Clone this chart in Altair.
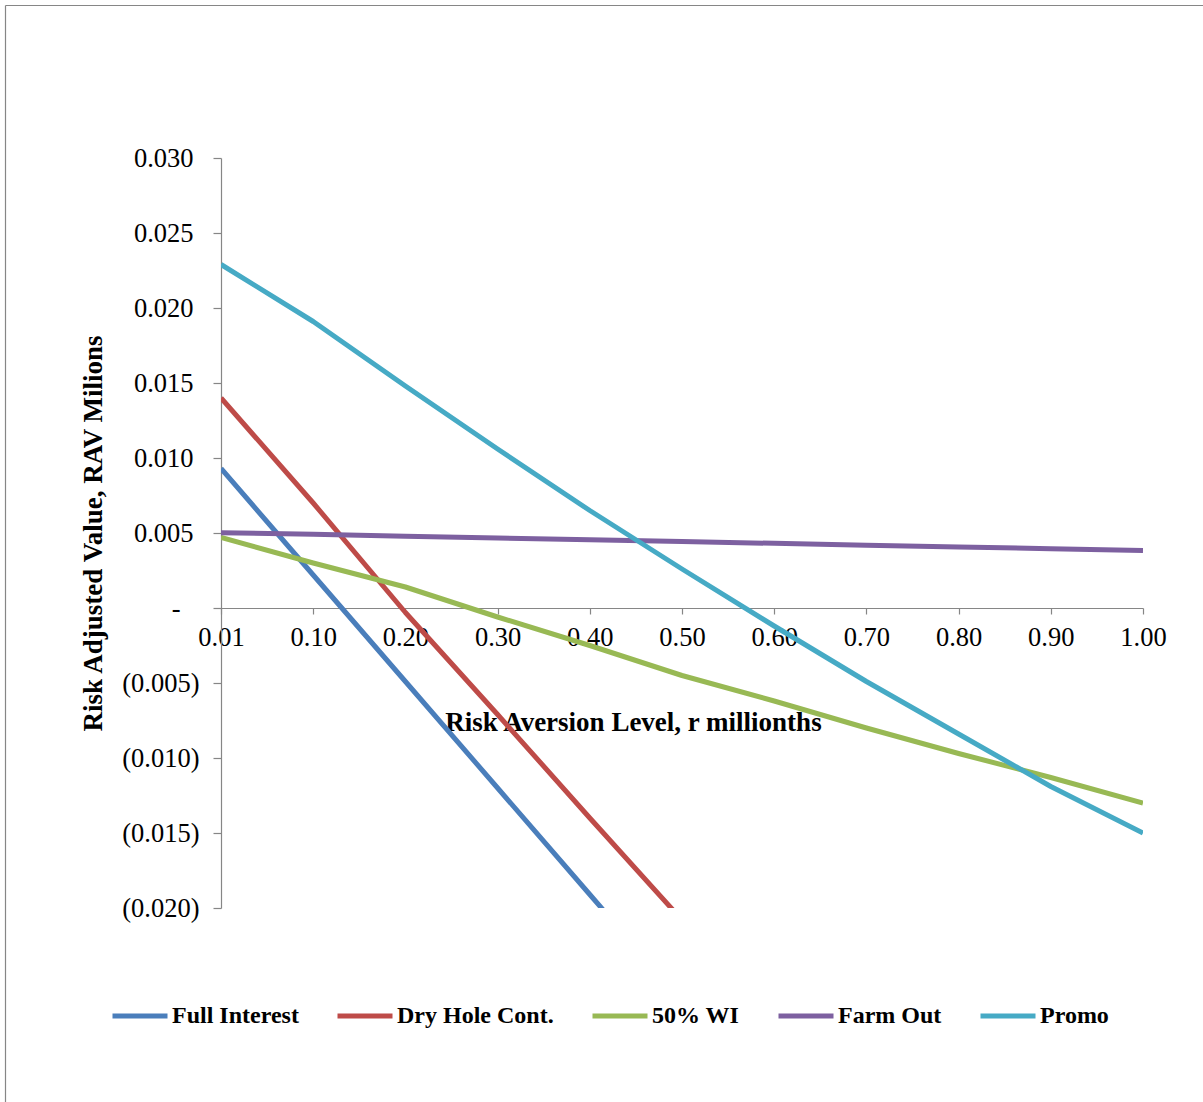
import altair as alt
import pandas as pd

# ---- data ----
r_labels = ["0.01", "0.10", "0.20", "0.30", "0.40", "0.50", "0.60", "0.70", "0.80", "0.90", "1.00"]
full_interest = [0.0093, 0.0022, -0.0049, -0.0120, -0.0191, -0.0262, -0.0333, -0.0404, -0.0475, -0.0546, -0.0617]
dry_hole = [0.0140, 0.0070, -0.0003, -0.0071, -0.0140, -0.0208, -0.0276, -0.0344, -0.0412, -0.0480, -0.0548]
wi_50 = [0.0047, 0.0030, 0.0014, -0.0006, -0.0025, -0.0045, -0.0062, -0.0080, -0.0097, -0.0113, -0.0130]
farm_out = [0.00502, 0.00491, 0.00479, 0.00467, 0.00455, 0.00443, 0.00431, 0.00419, 0.00407, 0.00395, 0.00383]
promo = [0.0229, 0.0191, 0.0148, 0.0106, 0.0065, 0.0026, -0.0012, -0.0049, -0.0084, -0.0119, -0.0150]

series_names = ["Full Interest", "Dry Hole Cont.", "50% WI", "Farm Out", "Promo"]
series_colors = ["#4A7EBB", "#BE4B48", "#98B954", "#7D60A0", "#46AAC5"]
y_ticks = [-0.020, -0.015, -0.010, -0.005, 0.0, 0.005, 0.010, 0.015, 0.020, 0.025, 0.030]

rows = []
for name, vals in zip(series_names, [full_interest, dry_hole, wi_50, farm_out, promo]):
    for r, v in zip(r_labels, vals):
        rows.append({"r": r, "rav": v, "series": name})
df = pd.DataFrame(rows)

FONT = "Liberation Serif"
GRAY = "#868686"

y_label_expr = (
    "abs(datum.value) < 1e-9 ? '-' : "
    "(datum.value < 0 ? '(' + format(-datum.value, '.3f') + ')' : format(datum.value, '.3f'))"
)

y_label_padding = {
    "condition": [
        {"test": "abs(datum.value) < 1e-9", "value": 33},
        {"test": "datum.value > 0", "value": 20},
    ],
    "value": 14,
}

lines = alt.Chart(df).mark_line(clip=True, strokeWidth=5, strokeJoin="round").encode(
    x=alt.X(
        "r:O",
        sort=r_labels,
        scale=alt.Scale(type="point", padding=0),
        axis=alt.Axis(
            title="Risk Aversion Level, r millionths",
            titleFont=FONT, titleFontSize=27, titleFontWeight="bold", titleColor="#000000",
            titleX=412, titleY=122, titleAlign="center", titleBaseline="alphabetic",
            labelFont=FONT, labelFontSize=26.5, labelColor="#000000", labelAngle=0,
            labelPadding=10, labelBaseline="top",
            domainColor=GRAY, tickColor=GRAY, tickSize=6, domainWidth=1.2, tickWidth=1.2,
            offset=-300, grid=False,
        ),
    ),
    y=alt.Y(
        "rav:Q",
        scale=alt.Scale(domain=[-0.02, 0.03], nice=False, zero=False),
        axis=alt.Axis(
            title="Risk Adjusted Value, RAV Milions",
            titleFont=FONT, titleFontSize=27, titleFontWeight="bold", titleColor="#000000",
            titleX=-120, titleY=375, titleAlign="center", titleBaseline="alphabetic", titleAngle=-90,
            values=y_ticks, labelExpr=y_label_expr,
            labelFont=FONT, labelFontSize=26.5, labelColor="#000000",
            labelPadding=y_label_padding,
            domainColor=GRAY, tickColor=GRAY, tickSize=8, domainWidth=1.2, tickWidth=1.2,
            grid=False,
        ),
    ),
    color=alt.Color(
        "series:N",
        sort=series_names,
        scale=alt.Scale(domain=series_names, range=series_colors),
        legend=alt.Legend(
            title=None, orient="none", direction="horizontal",
            legendX=-111, legendY=828, padding=0,
            symbolType="stroke", symbolSize=3025, symbolStrokeWidth=5,
            labelFont=FONT, labelFontSize=24, labelFontWeight="bold", labelColor="#000000",
            labelOffset=2, columnPadding=28, labelLimit=400,
        ),
    ),
)

frame_df = pd.DataFrame({"k": [0]})
frame_top = alt.Chart(frame_df).mark_rule(color=GRAY, strokeWidth=1.2).encode(
    x=alt.value(-215.5), x2=alt.value(1100), y=alt.value(-152.5)
)
frame_left = alt.Chart(frame_df).mark_rule(color=GRAY, strokeWidth=1.2).encode(
    x=alt.value(-215.5), y=alt.value(-152.5), y2=alt.value(1000)
)

chart = alt.layer(frame_top, frame_left, lines).properties(
    width=922, height=750,
    autosize=alt.AutoSizeParams(type="none"),
    padding={"left": 221, "top": 158, "right": 60, "bottom": 194},
    background="#ffffff",
).configure_view(stroke=None)

chart.save("out.html", embed_options={"renderer": "svg", "actions": False})
